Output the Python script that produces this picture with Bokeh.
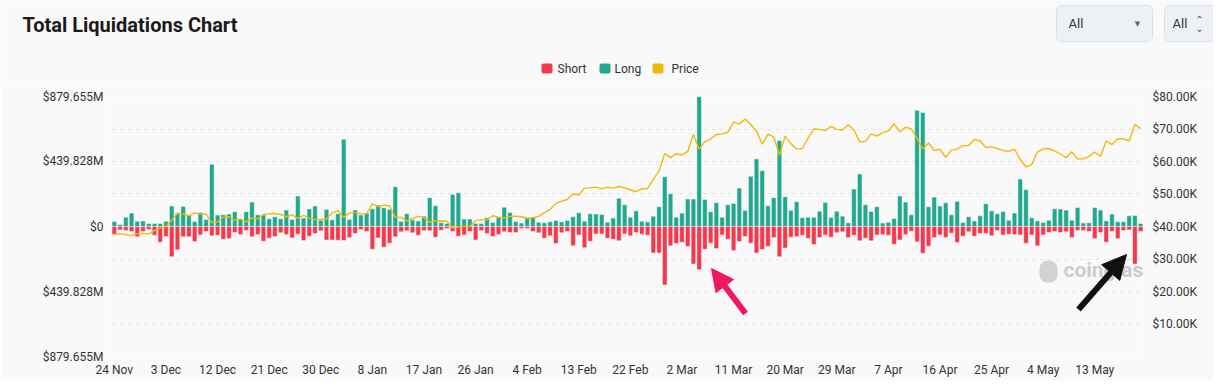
import pandas as pd
from bokeh.plotting import figure
from bokeh.layouts import column
from bokeh.models import (Range1d, LinearAxis, FixedTicker, CustomJSTickFormatter, Label,
                          BoxAnnotation, Arrow, NormalHead, ColumnDataSource)
from bokeh.embed import file_html
from bokeh.resources import INLINE

# ---------------- data ----------------
dates = pd.date_range("2023-11-24", "2024-05-21", freq="D")

# long liquidations, $M (drawn above zero)
long_m = [34, 14, 63, 91, 36, 38, 20, 20, 20, 36, 138, 86, 136, 75, 34, 95, 48, 421, 77, 79,
          84, 100, 50, 100, 165, 79, 77, 52, 66, 52, 111, 48, 206, 57, 118, 138, 43, 115, 45, 86,
          591, 48, 111, 77, 91, 120, 145, 127, 115, 269,
          34, 86, 45, 38, 70, 195, 140, 25, 20, 217, 229, 50, 50, 20, 20, 59, 27, 63, 131, 95,
          34, 23, 57, 63, 29, 25, 32, 41, 32, 41, 66, 93, 36, 86, 84, 82, 29, 57, 192, 147,
          63, 106, 36, 32, 70, 134, 337, 222, 63, 91,
          186, 186, 879.655, 183, 100, 161, 63, 147, 156, 260, 109, 340, 457, 378, 140, 195, 582, 201, 109, 168,
          59, 63, 63, 104, 163, 61, 104, 70, 25, 254, 355, 147, 102, 134, 23, 29, 54, 206, 165, 79,
          786, 772, 134, 199, 138, 161, 79, 170, 27, 66, 38, 72, 154, 106, 86, 102, 43, 91, 321, 249,
          59, 38, 27, 43, 120, 118, 111, 43, 129, 23, 25, 129, 111, 38, 84, 32, 32, 72, 75, 20]

# short liquidations, $M (drawn below zero)
short_m = [54, 23, 27, 34, 70, 34, 20, 59, 106, 68, 204, 158, 70, 70, 102, 57, 34, 63, 59, 86,
           82, 41, 54, 27, 70, 54, 100, 79, 68, 43, 54, 77, 52, 95, 66, 48, 29, 91, 91, 93,
           95, 75, 48, 20, 34, 154, 77, 140, 113, 70,
           36, 29, 43, 59, 27, 29, 72, 25, 14, 34, 66, 57, 34, 91, 27, 48, 68, 54, 36, 41,
           41, 14, 14, 34, 43, 79, 63, 115, 43, 34, 131, 57, 143, 100, 50, 50, 79, 86, 97, 50,
           63, 41, 52, 59, 179, 179, 396, 131, 115, 106,
           136, 254, 292, 154, 113, 149, 57, 86, 163, 102, 68, 113, 179, 156, 134, 75, 204, 145, 72, 68,
           59, 79, 122, 75, 57, 72, 43, 36, 75, 59, 97, 79, 97, 57, 54, 59, 120, 91, 54, 32,
           104, 181, 134, 75, 57, 75, 45, 109, 66, 36, 66, 48, 48, 63, 27, 57, 52, 54, 57, 113,
           57, 131, 57, 41, 34, 41, 36, 75, 27, 27, 34, 82, 41, 106, 34, 82, 27, 23, 254, 34]

# BTC price, $K
price_k = [37.7, 37.8, 37.5, 37.2, 37.8, 37.9, 37.7,
           38.7, 39.5, 39.9, 41.9, 44.1, 43.8, 43.3, 44.2, 43.8, 43.8,
           41.2, 41.4, 42.9, 43.0, 41.9, 42.3, 41.4, 42.6, 42.3, 43.7,
           43.9, 44.0, 43.7, 43.0, 43.6, 42.5, 43.4, 42.6, 42.1, 42.2, 42.3,
           44.2, 44.9, 42.8, 44.2, 44.2, 43.9, 43.9, 47.0, 46.1, 46.6,
           46.3, 42.8, 42.8, 41.7, 42.5, 43.1, 42.8, 41.3, 41.6, 41.7,
           41.6, 39.5, 39.9, 40.1, 40.0, 41.8, 42.1, 42.0, 43.3, 42.9, 42.6,
           43.1, 43.2, 43.0, 42.6, 42.7, 43.1, 44.3, 45.3, 47.1, 47.8,
           48.3, 50.0, 49.7, 51.8, 51.9, 52.1, 51.6, 52.1, 51.8, 52.3,
           51.9, 51.3, 50.7, 51.6, 51.7, 54.5, 57.1, 62.5, 61.2,
           62.4, 62.0, 63.1, 68.3, 63.8, 66.1, 66.9, 68.3, 68.5, 69.0,
           72.1, 71.5, 73.1, 71.4, 69.4, 65.3, 68.4, 67.6, 62.0, 67.8,
           65.5, 63.8, 64.0, 67.2, 70.0, 69.9, 69.5, 70.8, 69.9, 69.7, 71.3,
           69.7, 66.0, 66.2, 68.5, 67.8, 68.9, 69.4, 71.6, 69.1, 70.6,
           70.0, 67.1, 63.9, 65.7, 63.4, 63.8, 61.3, 63.5, 63.8, 64.9,
           64.9, 66.8, 66.4, 64.3, 64.5, 64.0, 63.4, 63.1, 63.8, 60.6,
           58.3, 59.1, 62.9, 63.9, 64.0, 63.2, 62.3, 61.2, 63.0, 60.8,
           60.8, 61.5, 62.9, 61.6, 66.3, 65.2, 67.0, 67.0, 66.3, 71.4, 70.1]

x_tick_labels = ["24 Nov", "3 Dec", "12 Dec", "21 Dec", "30 Dec", "8 Jan", "17 Jan", "26 Jan",
                 "4 Feb", "13 Feb", "22 Feb", "2 Mar", "11 Mar", "20 Mar", "29 Mar", "7 Apr",
                 "16 Apr", "25 Apr", "4 May", "13 May"]
left_ticks = [-879.655, -659.741, -439.828, -219.914, 0, 219.914, 439.828, 659.741, 879.655]
left_labels = ["$879.655M", "", "$439.828M", "", "$0", "", "$439.828M", "", "$879.655M"]
right_ticks = [10, 20, 30, 40, 50, 60, 70, 80]
right_labels = ["$10.00K", "$20.00K", "$30.00K", "$40.00K", "$50.00K", "$60.00K", "$70.00K", "$80.00K"]
legend_labels = ["Short", "Long", "Price"]

assert len(long_m) == len(short_m) == len(price_k) == len(dates)

day_labels = [f"{d.day} {d.strftime('%b')}" for d in dates]
x_tick_pos = [day_labels.index(t) for t in x_tick_labels]

RED = "#F5384D"
TEAL = "#22A88E"
YELLOW = "#F0B90B"
BG = "#f9f9f9"
TXT = "#333333"
FONT = "Roboto"
W = 1213
HEAD_H = 80
MAIN_H = 300

# ---------------- header (title, controls, legend) ----------------
h = figure(width=W, height=HEAD_H, x_range=Range1d(0, W), y_range=Range1d(HEAD_H, 0),
           output_backend="svg", toolbar_location=None, min_border=0,
           min_border_left=0, min_border_right=0, min_border_top=0, min_border_bottom=0,
           background_fill_color=BG, border_fill_color=BG, outline_line_color=None,
           frame_align=False)
h.axis.visible = False
h.grid.visible = False

def hlabel(x, y, text, size="12px", color=TXT, style="normal", font=FONT, align="left"):
    h.add_layout(Label(x=x, y=y, text=text, text_font=font, text_font_size=size,
                       text_color=color, text_font_style=style, text_baseline="middle",
                       text_align=align))

hlabel(22, 24, "Total Liquidations Chart", size="20px", color="#1a1a1a", style="bold")

for l, r in [(1056, 1152), (1164, 1215)]:
    h.add_layout(BoxAnnotation(left=l, right=r, top=5, bottom=41, fill_color="#edf1f5",
                               fill_alpha=1, line_color="#d9e0e8", line_alpha=1, border_radius=5))
hlabel(1068, 23, "All", size="13px")
hlabel(1137, 23, "▼", size="7px", color="#666666", font="DejaVu Sans", align="center")
hlabel(1172, 23, "All", size="13px")
hlabel(1199, 19, "⌃", size="10px", color="#555555", font="DejaVu Sans", align="center")
hlabel(1199, 28, "⌄", size="10px", color="#555555", font="DejaVu Sans", align="center")

key_colors = [RED, TEAL, YELLOW]
key_x = [541, 599, 652]
label_x = [557, 614, 671]
for name, c, kx, lx in zip(legend_labels, key_colors, key_x, label_x):
    h.add_layout(BoxAnnotation(left=kx, right=kx + 11, top=63, bottom=73, fill_color=c,
                               fill_alpha=1, line_color=None, border_radius=2))
    hlabel(lx, 68, name, size="12px")

# ---------------- main chart ----------------
src = ColumnDataSource(dict(x=list(range(len(dates))), long=long_m,
                            short_neg=[-v for v in short_m], price=price_k))

p = figure(width=W, height=MAIN_H, x_range=Range1d(-0.5, len(dates) - 0.5),
           y_range=Range1d(-879.655, 879.655), output_backend="svg", toolbar_location=None,
           min_border_left=111, min_border_right=W - 1143, min_border_top=16, min_border_bottom=24,
           background_fill_color=BG, border_fill_color=BG, outline_line_color=None,
           frame_align=False)
p.extra_y_ranges = {"price": Range1d(0, 80)}

def nearest_fmt(pos, labs):
    return CustomJSTickFormatter(args=dict(pos=pos, labs=labs), code="""
        let best = 0, bd = 1e12;
        for (let k = 0; k < pos.length; k++) {
            const d = Math.abs(pos[k] - tick);
            if (d < bd) { bd = d; best = k; }
        }
        return labs[best];
    """)

def style_axis(ax, standoff):
    ax.axis_line_color = None
    ax.major_tick_line_color = None
    ax.minor_tick_line_color = None
    ax.major_tick_out = 0
    ax.major_tick_in = 0
    ax.minor_tick_out = 0
    ax.minor_tick_in = 0
    ax.major_label_text_font = FONT
    ax.major_label_text_font_size = "12px"
    ax.major_label_text_color = TXT
    ax.major_label_standoff = standoff

lt = FixedTicker(ticks=left_ticks)
p.yaxis[0].ticker = lt
p.yaxis[0].formatter = nearest_fmt(left_ticks, left_labels)
style_axis(p.yaxis[0], 8)

ra = LinearAxis(y_range_name="price", ticker=FixedTicker(ticks=right_ticks),
                formatter=nearest_fmt(right_ticks, right_labels))
style_axis(ra, 9)
p.add_layout(ra, "right")

p.xaxis[0].ticker = FixedTicker(ticks=x_tick_pos)
p.xaxis[0].formatter = nearest_fmt(x_tick_pos, x_tick_labels)
style_axis(p.xaxis[0], 6)

p.xgrid.visible = False
p.ygrid.ticker = lt
p.ygrid.grid_line_color = "#e2e2e2"
p.ygrid.grid_line_dash = "4 4"

p.vbar(x="x", top="long", bottom=0, width=0.8, source=src,
       fill_color=TEAL, line_color="white", line_alpha=0.45, line_width=1)
p.vbar(x="x", top=0, bottom="short_neg", width=0.8, source=src,
       fill_color=RED, line_color="white", line_alpha=0.45, line_width=1)
p.line(x="x", y="price", source=src, y_range_name="price", line_color=YELLOW, line_width=1.4)

# watermark (screen units relative to the plot frame, origin bottom-left)
p.add_layout(BoxAnnotation(left=928, right=946, bottom=74, top=96, left_units="screen",
                           right_units="screen", bottom_units="screen", top_units="screen",
                           fill_color="#d2d2d2", fill_alpha=1, line_color=None, border_radius=8))
p.add_layout(Label(x=952, y=87, x_units="screen", y_units="screen", text="coinglass",
                   text_font=FONT, text_font_size="21px", text_color="#cccccc",
                   text_font_style="bold", text_baseline="middle"))

# annotation arrows
p.add_layout(Arrow(x_start=634, y_start=43, x_end=600, y_end=88, start_units="screen",
                   end_units="screen", line_color="#F0175C", line_width=6,
                   end=NormalHead(size=22, fill_color="#F0175C", line_color="#F0175C")))
p.add_layout(Arrow(x_start=967, y_start=47, x_end=1015, y_end=102, start_units="screen",
                   end_units="screen", line_color="#111111", line_width=6,
                   end=NormalHead(size=24, fill_color="#111111", line_color="#111111")))

layout = column(h, p, spacing=0)
open("out.html", "w").write(file_html(layout, INLINE))
